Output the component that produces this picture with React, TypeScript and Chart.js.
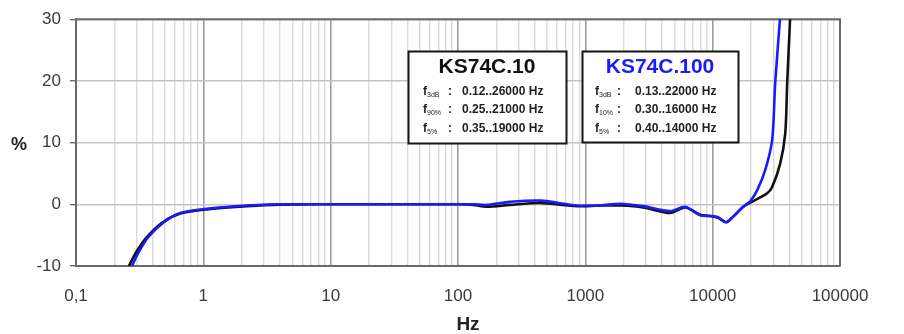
import React, { useEffect, useRef } from 'react';
import { Chart, registerables } from 'chart.js';
Chart.register(...registerables);

const freqTicks = [0.1, 1, 10, 100, 1000, 10000, 100000];
const freqTickLabels = ['0,1', '1', '10', '100', '1000', '10000', '100000'];
const percentTicks = [-10, 0, 10, 20, 30];

const freqKS10 = [0.26, 0.3, 0.36, 0.48, 0.66, 1.1, 2.2, 4, 10, 100, 131, 169, 256, 442, 862, 1306, 1876, 2844, 4634, 6081, 7980, 9550, 11040, 12770, 14490, 17380, 20800, 26800, 29300, 33900, 37150, 38470, 40640];
const devKS10 = [-10, -7.6, -5.3, -2.9, -1.5, -0.8, -0.3, -0.05, 0, 0, -0.1, -0.4, -0.1, 0.2, -0.3, -0.2, -0.2, -0.5, -1.4, -0.5, -1.7, -1.9, -2.2, -2.9, -2.0, -0.4, 0.5, 1.8, 2.8, 6.6, 11.5, 19.6, 30.5];

const freqKS100 = [0.275, 0.31, 0.37, 0.49, 0.66, 1.1, 2.2, 4, 10, 100, 131, 169, 256, 442, 862, 1306, 1876, 2844, 4634, 6081, 7980, 9550, 11040, 12770, 14490, 17380, 19720, 22380, 25820, 29310, 30970, 33900];
const devKS100 = [-10, -7.8, -5.3, -2.9, -1.4, -0.7, -0.2, 0, 0, 0, 0, -0.1, 0.4, 0.6, -0.2, -0.2, 0.1, -0.3, -1.1, -0.4, -1.8, -1.9, -2.1, -2.9, -2.0, -0.4, 0.5, 2.3, 5.5, 10.4, 19.6, 30.5];

const legendTitles = ['KS74C.10', 'KS74C.100'];
const legendSubs10 = ['3dB', '90%', '5%'];
const legendVals10 = ['0.12..26000 Hz', '0.25..21000 Hz', '0.35..19000 Hz'];
const legendSubs100 = ['3dB', '10%', '5%'];
const legendVals100 = ['0.13..22000 Hz', '0.30..16000 Hz', '0.40..14000 Hz'];

const FONT = '"Liberation Sans", Arial, sans-serif';

const isMajor = (v: number) => Math.abs(Math.log10(v) - Math.round(Math.log10(v))) < 1e-6;

const gridValues: number[] = [];
for (let i = 0; i < freqTicks.length - 1; i++) {
  for (let m = 1; m <= 9; m++) gridValues.push(freqTicks[i] * m);
}
gridValues.push(freqTicks[freqTicks.length - 1]);

const toPoints = (xs: number[], ys: number[]) => xs.map((x, i) => ({ x, y: ys[i] }));

function drawBox(ctx: CanvasRenderingContext2D, box: any) {
  ctx.save();
  ctx.fillStyle = '#ffffff';
  ctx.fillRect(box.x, box.y, box.w, box.h);
  ctx.strokeStyle = '#151515';
  ctx.lineWidth = 2;
  ctx.strokeRect(box.x, box.y, box.w, box.h);
  ctx.fillStyle = box.titleColor;
  ctx.font = `bold 21px ${FONT}`;
  ctx.textAlign = 'center';
  ctx.textBaseline = 'alphabetic';
  ctx.fillText(box.title, box.titleX, 73);
  const rows = [95, 113, 132];
  ctx.textAlign = 'left';
  ctx.fillStyle = '#222';
  rows.forEach((by, i) => {
    ctx.font = `bold 12px ${FONT}`;
    ctx.fillText('f', box.fx, by);
    ctx.font = `7px ${FONT}`;
    ctx.fillText(box.subs[i], box.fx + 4, by + 2);
    ctx.font = `bold 12px ${FONT}`;
    ctx.fillText(':', box.cx, by);
    ctx.fillText(box.vals[i], box.vx, by);
  });
  ctx.restore();
}

const overlay = {
  id: 'overlay',
  beforeDatasetsDraw(chart: any) {
    const { ctx, chartArea } = chart;
    ctx.save();
    ctx.strokeStyle = '#6a6a6a';
    ctx.lineWidth = 2;
    ctx.beginPath();
    ctx.moveTo(chartArea.left, chartArea.top);
    ctx.lineTo(chartArea.right, chartArea.top);
    ctx.lineTo(chartArea.right, chartArea.bottom);
    ctx.stroke();
    ctx.restore();
  },
  afterDraw(chart: any) {
    const ctx = chart.ctx as CanvasRenderingContext2D;
    drawBox(ctx, { x: 408.5, y: 51.5, w: 158, h: 92, title: legendTitles[0], titleColor: '#111', titleX: 487, fx: 423, cx: 448, vx: 462, subs: legendSubs10, vals: legendVals10 });
    drawBox(ctx, { x: 582.5, y: 51.5, w: 156, h: 91, title: legendTitles[1], titleColor: '#1a1aff', titleX: 660, fx: 595, cx: 617, vx: 635, subs: legendSubs100, vals: legendVals100 });
    ctx.save();
    ctx.fillStyle = '#222';
    ctx.font = `bold 18px ${FONT}`;
    ctx.textAlign = 'center';
    ctx.fillText('%', 19, 150);
    ctx.font = `bold 19px ${FONT}`;
    ctx.fillText('Hz', 468, 330);
    ctx.restore();
  },
};

export default function App() {
  const ref = useRef<HTMLCanvasElement>(null);
  useEffect(() => {
    if (!ref.current) return;
    const chart = new Chart(ref.current, {
      type: 'line',
      data: {
        datasets: [
          {
            label: legendTitles[1],
            data: toPoints(freqKS100, devKS100),
            borderColor: '#1a1aff',
            borderWidth: 2.6,
            pointRadius: 0,
            tension: 0.3,
            order: 0,
          },
          {
            label: legendTitles[0],
            data: toPoints(freqKS10, devKS10),
            borderColor: '#111111',
            borderWidth: 2.6,
            pointRadius: 0,
            tension: 0.3,
            order: 1,
          },
        ],
      },
      options: {
        responsive: false,
        animation: false,
        layout: { padding: { top: 19, right: 64, left: 0, bottom: 0 } },
        plugins: { legend: { display: false }, tooltip: { enabled: false } },
        scales: {
          x: {
            type: 'logarithmic',
            min: 0.1,
            max: 100000,
            afterBuildTicks: (scale: any) => {
              scale.ticks = gridValues.map((v) => ({ value: v }));
            },
            afterFit: (scale: any) => {
              scale.height = 68;
            },
            grid: {
              drawTicks: false,
              color: (c: any) => (c.tick && isMajor(c.tick.value) ? '#9c9c9c' : '#dadada'),
              lineWidth: (c: any) => (c.tick && isMajor(c.tick.value) ? 1.6 : 1.4),
            },
            border: { display: true, color: '#6a6a6a', width: 2 },
            ticks: {
              autoSkip: false,
              maxRotation: 0,
              padding: 20,
              color: '#3a3a3a',
              font: { family: FONT, size: 17 },
              callback: (v: any) => {
                const idx = freqTicks.findIndex((t) => Math.abs(t - Number(v)) / t < 1e-6);
                return idx >= 0 ? freqTickLabels[idx] : '';
              },
            },
          },
          y: {
            min: -10,
            max: 30,
            afterBuildTicks: (scale: any) => {
              scale.ticks = percentTicks.map((v) => ({ value: v }));
            },
            afterFit: (scale: any) => {
              scale.width = 76;
            },
            grid: { color: '#c4c4c4', lineWidth: 1.4, tickLength: 6, tickColor: '#6a6a6a' },
            border: { display: true, color: '#6a6a6a', width: 2 },
            ticks: {
              padding: 9,
              color: '#3a3a3a',
              font: { family: FONT, size: 17 },
            },
          },
        },
      },
      plugins: [overlay],
    } as any);
    return () => chart.destroy();
  }, []);
  return (
    <div style={{ position: 'fixed', left: 0, top: 0, width: 904, height: 334, background: '#fff' }}>
      <canvas ref={ref} width={904} height={334} />
    </div>
  );
}
